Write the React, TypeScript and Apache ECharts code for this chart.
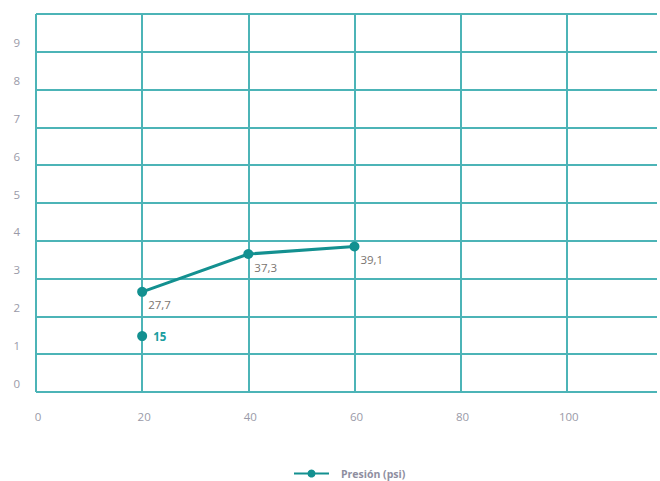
import React, { useEffect, useRef } from "react";
import * as echarts from "echarts";

const xValues = [20, 40, 60];
const presionY = [2.65, 3.65, 3.85];
const presionLabels = ["27,7", "37,3", "39,1"];
const extraX = [20];
const extraY = [1.48];
const extraLabels = ["15"];
const xTicks = [0, 20, 40, 60, 80, 100];
const yTicks = [0, 1, 2, 3, 4, 5, 6, 7, 8, 9];

const GRID = "#4cb4b7";
const LINE = "#139090";
const TEXT = "#9a9aa8";

export default function App() {
  const ref = useRef<HTMLDivElement>(null);
  useEffect(() => {
    document.body.style.margin = "0";
    const chart = echarts.init(ref.current!, null, { renderer: "svg" });
    chart.setOption({
      animation: false,
      textStyle: { fontFamily: "Open Sans" },
      grid: { left: 36, right: 0, top: 14, bottom: 89, containLabel: false },
      legend: {
        data: ["Presión (psi)"],
        top: 463,
        left: 288,
        itemWidth: 35,
        itemHeight: 10,
        textStyle: { color: "#8e8ea0", fontSize: 10.5, fontWeight: "bold", padding: [0, 0, 0, 7] },
      },
      xAxis: {
        type: "value",
        min: 0,
        max: 117,
        interval: 20,
        axisLine: { show: false },
        axisTick: { show: false },
        axisLabel: {
          color: TEXT,
          fontSize: 11.5,
          margin: 18,
          padding: [0, 0, 0, 4],
          formatter: (v: number) => (xTicks.includes(v) ? String(v) : ""),
        },
        splitLine: { show: true, showMaxLine: false, lineStyle: { color: GRID, width: 2 } },
      },
      yAxis: {
        type: "value",
        min: 0,
        max: 10,
        interval: 1,
        axisLine: { show: false },
        axisTick: { show: false },
        axisLabel: {
          color: TEXT,
          fontSize: 11.5,
          margin: 16,
          verticalAlign: "bottom",
          padding: [0, 0, 3, 0],
          formatter: (v: number) => (yTicks.includes(v) ? String(v) : ""),
        },
        splitLine: { show: true, lineStyle: { color: GRID, width: 2 } },
      },
      series: [
        {
          name: "Presión (psi)",
          type: "line",
          data: xValues.map((x, i) => [x, presionY[i]]),
          symbol: "circle",
          symbolSize: 10,
          itemStyle: { color: LINE },
          lineStyle: { color: LINE, width: 3 },
          label: {
            show: true,
            position: "right",
            distance: 1,
            offset: [0, 13],
            color: "#7a7470",
            fontSize: 11.5,
            formatter: (p: any) => presionLabels[p.dataIndex],
          },
        },
        {
          name: "extra",
          type: "scatter",
          data: extraX.map((x, i) => [x, extraY[i]]),
          symbol: "circle",
          symbolSize: 10,
          itemStyle: { color: LINE, opacity: 1 },
          label: {
            show: true,
            position: "right",
            distance: 6,
            color: "#1a9ea0",
            fontSize: 11.5,
            fontWeight: "bold",
            formatter: (p: any) => extraLabels[p.dataIndex],
          },
        },
      ],
    });
    return () => chart.dispose();
  }, []);
  return <div ref={ref} style={{ width: 660, height: 481 }} />;
}
